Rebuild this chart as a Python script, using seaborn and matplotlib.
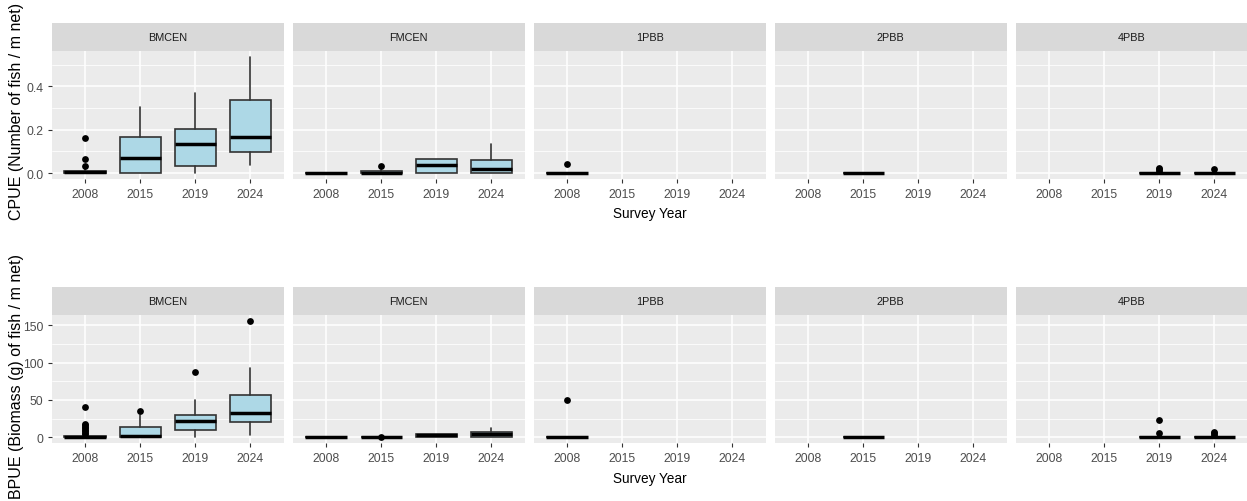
import numpy as np
import pandas as pd
import matplotlib
matplotlib.use("Agg")
import matplotlib.pyplot as plt
import seaborn as sns

# ---- categories -------------------------------------------------------------
sites = ["BMCEN", "FMCEN", "1PBB", "2PBB", "4PBB"]
years = ["2008", "2015", "2019", "2024"]

# ---- CPUE box summaries (one row per site/year that was sampled) -------------
cpue_box_site = ["BMCEN"] * 4 + ["FMCEN"] * 4 + ["1PBB", "2PBB", "4PBB", "4PBB"]
cpue_box_year = years + years + ["2008", "2015", "2019", "2024"]
cpue_whislo = [0.0, 0.0, 0.0, 0.037, 0.0, 0.0, 0.0, 0.0, 0.0, 0.0, 0.0, 0.0]
cpue_q1 = [0.0, 0.0, 0.032, 0.098, 0.0, 0.0, 0.0, 0.002, 0.0, 0.0, 0.0, 0.0]
cpue_med = [0.004, 0.069, 0.134, 0.168, 0.0, 0.002, 0.038, 0.021, 0.0, 0.0, 0.0, 0.0]
cpue_q3 = [0.010, 0.166, 0.203, 0.336, 0.0, 0.008, 0.067, 0.061, 0.0, 0.0, 0.0, 0.0]
cpue_whishi = [0.022, 0.304, 0.369, 0.536, 0.0, 0.015, 0.067, 0.133, 0.0, 0.0, 0.0, 0.0]

cpue_out_site = ["BMCEN"] * 3 + ["FMCEN", "1PBB", "4PBB", "4PBB", "4PBB", "4PBB"]
cpue_out_year = ["2008"] * 3 + ["2015", "2008", "2019", "2019", "2019", "2024"]
cpue_out_value = [0.032, 0.064, 0.162, 0.035, 0.041, 0.010, 0.017, 0.024, 0.018]

# ---- BPUE box summaries -----------------------------------------------------
bpue_box_site = ["BMCEN"] * 4 + ["FMCEN"] * 4 + ["1PBB", "2PBB", "4PBB", "4PBB"]
bpue_box_year = years + years + ["2008", "2015", "2019", "2024"]
bpue_whislo = [0.0, 0.0, 0.0, 3.0, 0.0, 0.0, 0.0, 0.0, 0.0, 0.0, 0.0, 0.0]
bpue_q1 = [0.0, 0.0, 9.9, 21.0, 0.0, 0.0, 0.3, 0.5, 0.0, 0.0, 0.0, 0.0]
bpue_med = [0.5, 2.2, 22.4, 32.2, 0.0, 0.0, 2.5, 4.0, 0.0, 0.0, 0.0, 0.0]
bpue_q3 = [2.0, 13.9, 30.0, 56.9, 0.0, 0.3, 4.5, 7.6, 0.0, 0.0, 0.0, 0.0]
bpue_whishi = [3.0, 30.0, 50.0, 92.7, 0.0, 0.3, 4.5, 12.5, 0.0, 0.0, 0.0, 0.0]

bpue_out_site = (["BMCEN"] * 12 + ["FMCEN", "1PBB"] + ["4PBB"] * 5)
bpue_out_year = (["2008"] * 9 + ["2015", "2019", "2024", "2015", "2008"]
                 + ["2019", "2019", "2024", "2024", "2024"])
bpue_out_value = [4, 6, 8, 10, 12, 14, 16, 18, 40, 35.8, 86.9, 156.3,
                  0.6, 50.0, 5.4, 23.2, 3.5, 5.5, 7.5]

# ---- axis ticks -------------------------------------------------------------
cpue_major = [0.0, 0.2, 0.4]
cpue_labels = ["0.0", "0.2", "0.4"]
cpue_minor = [0.1, 0.3, 0.5]
bpue_major = [0, 50, 100, 150]
bpue_labels = ["0", "50", "100", "150"]
bpue_minor = [25, 75, 125]

cpue_title = "CPUE (Number of fish / m net)"
bpue_title = "BPUE (Biomass (g) of fish / m net)"
x_title = "Survey Year"

# ---- assemble tidy tables ---------------------------------------------------
cpue_boxes = pd.DataFrame(dict(site=cpue_box_site, year=cpue_box_year,
                               whislo=cpue_whislo, q1=cpue_q1, med=cpue_med,
                               q3=cpue_q3, whishi=cpue_whishi))
cpue_out = pd.DataFrame(dict(site=cpue_out_site, year=cpue_out_year, value=cpue_out_value))
bpue_boxes = pd.DataFrame(dict(site=bpue_box_site, year=bpue_box_year,
                               whislo=bpue_whislo, q1=bpue_q1, med=bpue_med,
                               q3=bpue_q3, whishi=bpue_whishi))
bpue_out = pd.DataFrame(dict(site=bpue_out_site, year=bpue_out_year, value=bpue_out_value))

# ---- style ------------------------------------------------------------------
sns.set_theme(style="darkgrid", rc={
    "axes.facecolor": "#EBEBEB",
    "grid.color": "white",
    "axes.edgecolor": "none",
    "xtick.color": "#333333",
    "ytick.color": "#333333",
    "xtick.labelcolor": "#4D4D4D",
    "ytick.labelcolor": "#4D4D4D",
})
plt.rcParams["font.family"] = ["Liberation Sans", "DejaVu Sans"]

W, H = 1247, 502
fig = plt.figure(figsize=(W / 100, H / 100), dpi=100)
fig.patch.set_facecolor("white")

BOX_FILL = "#ADD8E6"
LINE = "#333333"
year_pos = {y: i for i, y in enumerate(years)}


def fx(px):
    return px / W


def fy(py):
    return 1 - py / H


def draw_row(boxes, outs, strip_top, panel_top, panel_bot, ylim, major, labels, minor,
             ytitle, ytitle_center, xtitle_baseline):
    col_left = [52 + i * 241 for i in range(5)]
    width = 231.5
    for ci, site in enumerate(sites):
        left = col_left[ci]
        ax = fig.add_axes([fx(left), fy(panel_bot), fx(width), (panel_bot - panel_top) / H])
        sax = fig.add_axes([fx(left), fy(panel_top), fx(width), (panel_top - strip_top) / H])
        sax.set_facecolor("#D9D9D9")
        sax.set_xticks([]); sax.set_yticks([])
        sax.grid(False)
        for sp in sax.spines.values():
            sp.set_visible(False)
        sax.text(0.5, 0.5, site, ha="center", va="center", fontsize=7.8,
                 color="#1A1A1A", transform=sax.transAxes)

        sub = boxes[boxes.site == site]
        stats = []
        pos = []
        for _, r in sub.iterrows():
            stats.append(dict(whislo=r.whislo, q1=r.q1, med=r.med, q3=r.q3,
                              whishi=r.whishi, fliers=[]))
            pos.append(year_pos[r.year])
        if stats:
            ax.bxp(stats, positions=pos, widths=0.75, patch_artist=True,
                   showfliers=False, showcaps=False,
                   boxprops=dict(facecolor=BOX_FILL, edgecolor=LINE, linewidth=1.2),
                   whiskerprops=dict(color=LINE, linewidth=1.2),
                   medianprops=dict(color="black", linewidth=2.5, solid_capstyle="butt"),
                   manage_ticks=False, zorder=3)
        osub = outs[outs.site == site].copy()
        if len(osub):
            osub["x"] = osub.year.map(year_pos)
            sns.scatterplot(data=osub, x="x", y="value", ax=ax, color="black",
                            s=24, linewidth=0, zorder=4, legend=False)

        ax.set_xlim(-0.6, 3.6)
        ax.set_ylim(*ylim)
        ax.set_xticks(range(len(years)))
        ax.set_xticklabels(years)
        ax.set_yticks(major)
        ax.set_yticks(minor, minor=True)
        ax.grid(which="major", color="white", linewidth=1.1)
        ax.grid(which="minor", color="white", linewidth=0.55)
        ax.tick_params(axis="both", which="major", length=3, width=0.8,
                       labelsize=8.8, pad=3.2, bottom=True, left=(ci == 0))
        ax.tick_params(axis="both", which="minor", length=0)
        if ci == 0:
            ax.set_yticklabels(labels)
        else:
            ax.set_yticklabels([])
        ax.set_xlabel("")
        ax.set_ylabel("")
        for sp in ax.spines.values():
            sp.set_visible(False)

    fig.text(fx(17), fy(ytitle_center), ytitle, rotation=90, ha="center", va="center",
             fontsize=11.5, color="black")
    fig.text(fx(650), fy(xtitle_baseline), x_title, ha="center", va="baseline",
             fontsize=9.8, color="black")


draw_row(cpue_boxes, cpue_out, 24, 52, 180, (-0.0268, 0.5628),
         cpue_major, cpue_labels, cpue_minor, cpue_title, 111.5, 218)
draw_row(bpue_boxes, bpue_out, 288, 316, 444, (-7.8, 164.1),
         bpue_major, bpue_labels, bpue_minor, bpue_title, 376.5, 483)

fig.savefig("out.png", dpi=100, facecolor="white")
